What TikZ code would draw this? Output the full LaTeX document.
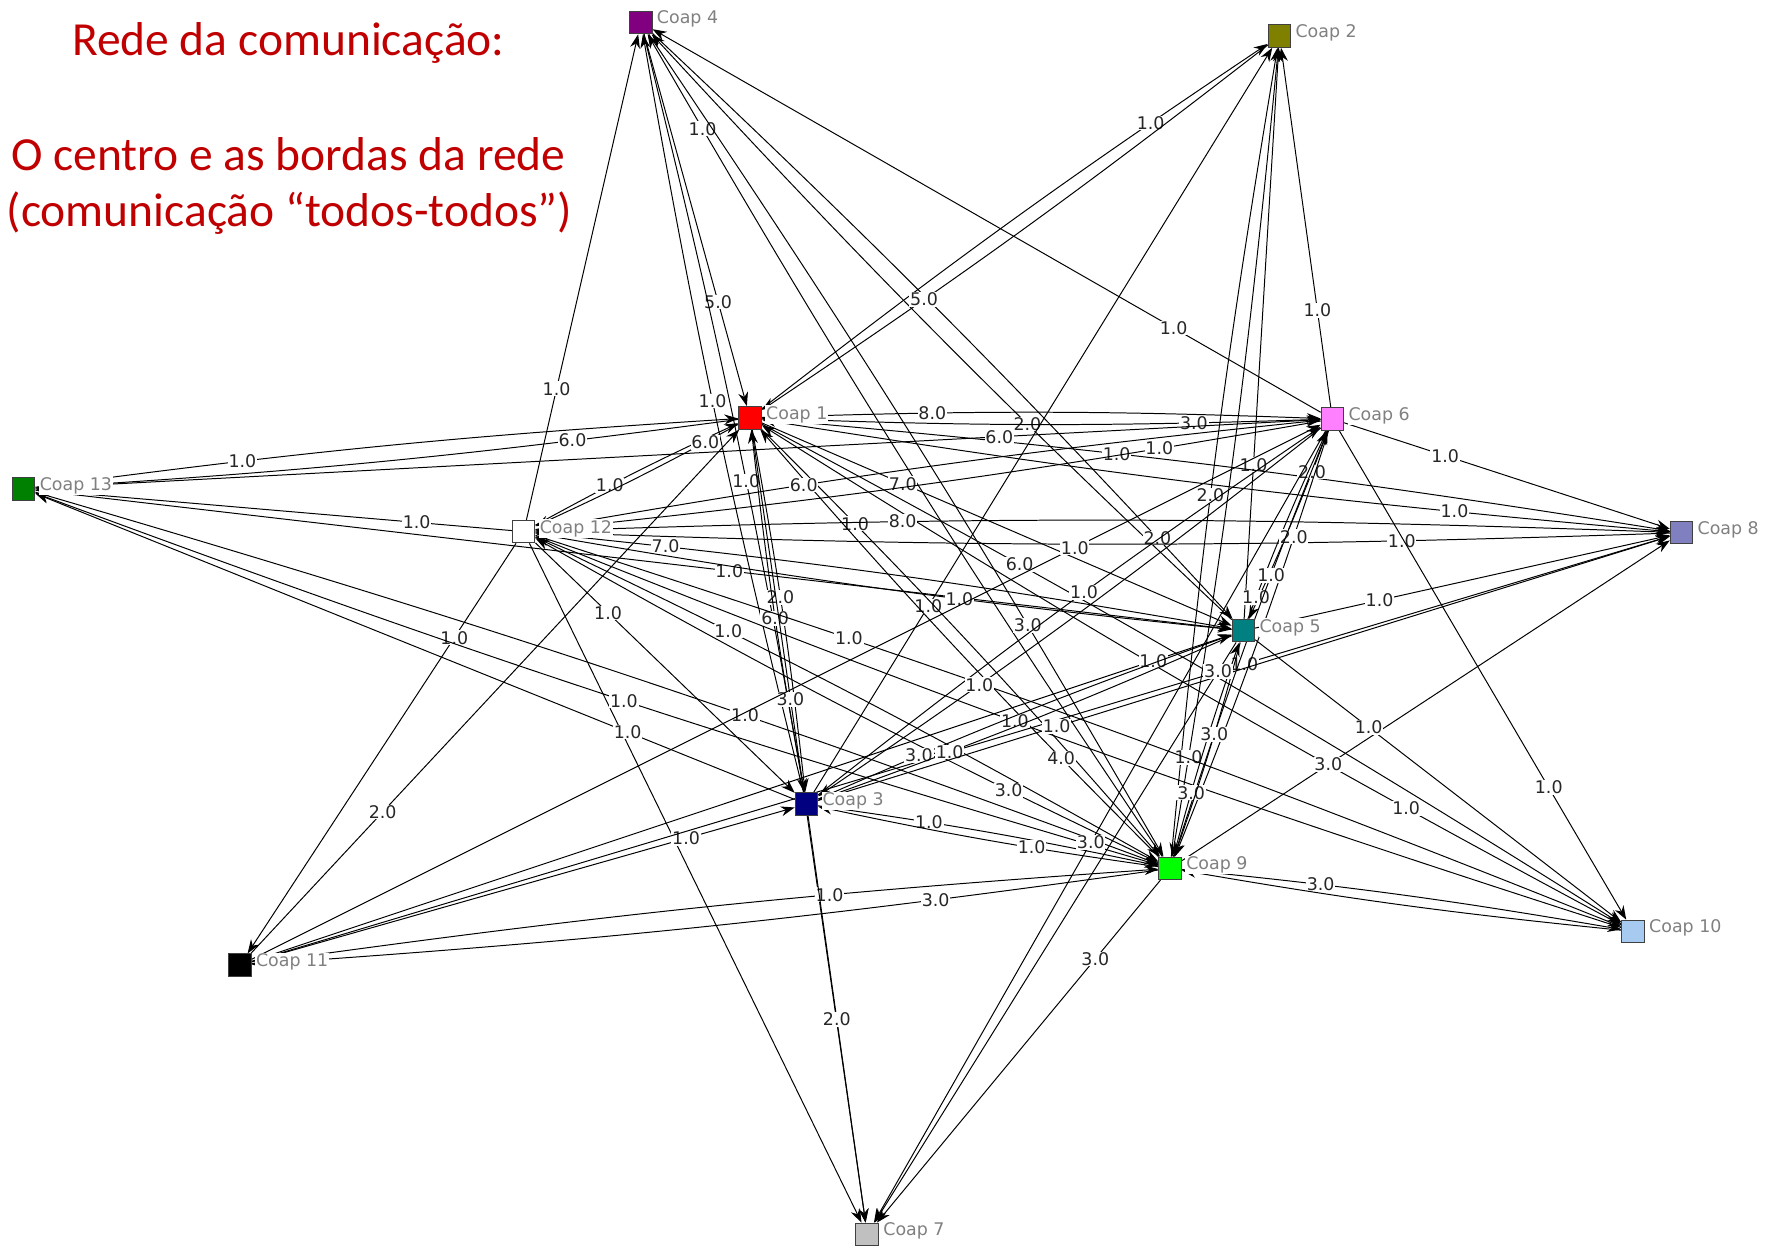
\documentclass[tikz,border=0pt]{standalone}
\usepackage{fontspec}
\usepackage{tikz}
\usetikzlibrary{arrows.meta,positioning,backgrounds}
\newfontfamily\titlefont{Carlito}
\newfontfamily\netfont{DejaVu Sans}
\definecolor{titlered}{RGB}{192,0,0}
\definecolor{coapred}{RGB}{255,0,0}
\definecolor{coapolive}{RGB}{128,128,0}
\definecolor{coappurple}{RGB}{128,0,128}
\definecolor{coapteal}{RGB}{0,128,128}
\definecolor{coappink}{RGB}{255,128,255}
\definecolor{coapsilver}{RGB}{192,192,192}
\definecolor{coapslate}{RGB}{128,128,192}
\definecolor{coaplime}{RGB}{0,255,0}
\definecolor{coapsky}{RGB}{166,202,240}
\definecolor{coapnavy}{RGB}{0,0,128}
\definecolor{coapgreen}{RGB}{0,128,0}

\begin{document}
\begin{tikzpicture}[
    coap/.style={rectangle, draw=black!75, line width=0.5pt, minimum size=0.4cm, inner sep=0pt},
    coaplbl/.style={font=\netfont\fontsize{8.8}{10}\selectfont, text=black!50, fill=white, inner sep=0.5pt, yshift=1.6pt},
    titletxt/.style={font=\titlefont\fontsize{24}{29}\selectfont, text=titlered, inner sep=0pt, anchor=base},
    link/.style={->, >={Stealth[length=7pt,width=5pt]}, line width=0.5pt},
    pair/.style={bend left=2},
    val/.style={font=\netfont\fontsize{8.8}{10}\selectfont, text=black!85, fill=white, inner sep=0.4pt},
    label distance=1.5pt
]
\useasboundingbox (0,0) rectangle (31.36,22.12);

% Title
\node[titletxt] (title1) at (5.12,21.14) {Rede da comunicação:};
\node[titletxt] (title2) at (5.12,19.10) {O centro e as bordas da rede};
\node[titletxt] (title3) at (5.14,18.09) {(comunicação “todos-todos”)};

% Cooperatives
\node[coap, fill=coapred, label={[coaplbl]east:Coap 1}] (coap1) at (13.32,14.70) {};
\node[coap, fill=coapolive, label={[coaplbl]east:Coap 2}] (coap2) at (22.72,21.48) {};
\node[coap, fill=coapnavy, label={[coaplbl]east:Coap 3}] (coap3) at (14.32,7.84) {};
\node[coap, fill=coappurple, label={[coaplbl]east:Coap 4}] (coap4) at (11.38,21.72) {};
\node[coap, fill=coapteal, label={[coaplbl]east:Coap 5}] (coap5) at (22.08,10.92) {};
\node[coap, fill=coappink, label={[coaplbl]east:Coap 6}] (coap6) at (23.66,14.68) {};
\node[coap, fill=coapsilver, label={[coaplbl]east:Coap 7}] (coap7) at (15.40,0.20) {};
\node[coap, fill=coapslate, label={[coaplbl]east:Coap 8}] (coap8) at (29.86,12.66) {};
\node[coap, fill=coaplime, label={[coaplbl]east:Coap 9}] (coap9) at (20.78,6.70) {};
\node[coap, fill=coapsky, label={[coaplbl]east:Coap 10}] (coap10) at (29.00,5.58) {};
\node[coap, fill=black, label={[coaplbl]east:Coap 11}] (coap11) at (4.26,4.98) {};
\node[coap, fill=white, label={[coaplbl]east:Coap 12}] (coap12) at (9.30,12.68) {};
\node[coap, fill=coapgreen, label={[coaplbl]east:Coap 13}] (coap13) at (0.42,13.44) {};

% Connections
\begin{scope}[on background layer]
% Coap 4
\draw[link] (coap12) -- node[val, pos=.27] {1.0} (coap4);
\draw[link] (coap4) -- node[val, pos=.72] {5.0} (coap1);
\draw[link] (coap3) to[pair] node[val, pos=.52] {1.0} (coap4);
\draw[link] (coap4) to[pair] node[val, pos=.60] {1.0} (coap3);
\draw[link] (coap9) to[pair] node[val, pos=.90] {1.0} (coap4);
\draw[link] (coap4) to[pair] node[val, pos=.74] {3.0} (coap9);
\draw[link] (coap5) to[pair] node[val, pos=.33] {2.0} (coap4);
\draw[link] (coap4) to[pair] node[val, pos=.88] {2.0} (coap5);
\draw[link] (coap6) -- node[val, pos=.22] {1.0} (coap4);
% Coap 2
\draw[link] (coap1) to[pair] node[val, pos=.79] {1.0} (coap2);
\draw[link] (coap2) to[pair] node[val, pos=.70] {5.0} (coap1);
\draw[link] (coap6) -- node[val, pos=.27] {1.0} (coap2);
\draw[link] (coap3) -- node[val, pos=.25] {1.0} (coap2);
\draw[link] (coap5) -- node[val, pos=.27] {1.0} (coap2);
\draw[link] (coap9) to[pair] node[val, pos=.44] {2.0} (coap2);
\draw[link] (coap2) to[pair] node[val, pos=.89] {1.0} (coap9);
% Coap 1
\draw[link] (coap13) to[pair] node[val, pos=.28] {1.0} (coap1);
\draw[link] (coap1) to[pair] node[val, pos=.22] {6.0} (coap13);
\draw[link] (coap12) to[pair] node[val, pos=.36] {1.0} (coap1);
\draw[link] (coap1) to[pair] node[val, pos=.15] {6.0} (coap12);
\draw[link] (coap11) -- node[val, pos=.27] {2.0} (coap1);
\draw[link] (coap1) to[pair] node[val, pos=.29] {8.0} (coap6);
\draw[link] (coap6) to[pair] node[val, pos=.21] {3.0} (coap1);
\draw[link] (coap1) to[pair] node[val, pos=.38] {1.0} (coap8);
\draw[link] (coap8) to[pair] node[val, pos=.22] {1.0} (coap1);
\draw[link] (coap1) -- node[val, pos=.30] {7.0} (coap5);
\draw[link] (coap1) to[pair] node[val, pos=.21] {1.0} (coap9);
\draw[link] (coap9) to[pair] node[val, pos=.22] {4.0} (coap1);
\draw[link] (coap1) to[pair] node[val, pos=.28] {6.0} (coap10);
\draw[link] (coap10) to[pair] node[val, pos=.23] {1.0} (coap1);
\draw[link] (coap1) to[pair] node[val, pos=.46] {2.0} (coap3);
\draw[link] (coap3) to[pair] node[val, pos=.48] {6.0} (coap1);
\draw[link] (coap1) -- node[val, pos=.34] {3.0} (coap7);
% Coap 12
\draw[link] (coap12) -- node[val, pos=.20] {1.0} (coap13);
\draw[link] (coap13) -- node[val, pos=.58] {1.0} (coap5);
\draw[link] (coap12) to[pair] node[val, pos=.17] {7.0} (coap5);
\draw[link] (coap5) to[pair] node[val, pos=.38] {1.0} (coap12);
\draw[link] (coap12) to[pair] node[val, pos=.31] {8.0} (coap8);
\draw[link] (coap8) to[pair] node[val, pos=.22] {1.0} (coap12);
\draw[link] (coap12) to[pair] node[val, pos=.33] {6.0} (coap6);
\draw[link] (coap6) to[pair] node[val, pos=.19] {1.0} (coap12);
\draw[link] (coap12) to[pair] node[val, pos=.29] {1.0} (coap9);
\draw[link] (coap9) to[pair] node[val, pos=.22] {3.0} (coap12);
\draw[link] (coap12) to[pair] node[val, pos=.27] {1.0} (coap10);
\draw[link] (coap10) to[pair] node[val, pos=.56] {1.0} (coap12);
\draw[link] (coap12) -- node[val, pos=.28] {1.0} (coap3);
\draw[link] (coap12) -- (coap7);
\draw[link] (coap12) -- node[val, pos=.23] {1.0} (coap11);
% Coap 13 and Coap 11
\draw[link] (coap9) to[pair] node[val, pos=.47] {1.0} (coap13);
\draw[link] (coap13) to[pair] node[val, pos=.64] {1.0} (coap9);
\draw[link] (coap3) -- node[val, pos=.22] {1.0} (coap13);
\draw[link] (coap13) -- node[val, pos=.75] {6.0} (coap6);
\draw[link] (coap11) -- node[val, pos=.77] {1.0} (coap6);
\draw[link] (coap11) -- node[val, pos=.80] {1.0} (coap3);
\draw[link] (coap11) -- node[val, pos=.92] {1.0} (coap5);
\draw[link] (coap11) -- node[val, pos=.70] {1.0} (coap8);
\draw[link] (coap11) to[pair] node[val, pos=.65] {1.0} (coap9);
\draw[link] (coap9) to[pair] node[val, pos=.23] {3.0} (coap11);
% Coap 3
\draw[link] (coap3) to[pair] node[val, pos=.54] {1.0} (coap6);
\draw[link] (coap6) to[pair] node[val, pos=.70] {1.0} (coap3);
\draw[link] (coap3) to[pair] node[val, pos=.23] {3.0} (coap5);
\draw[link] (coap5) to[pair] node[val, pos=.70] {1.0} (coap3);
\draw[link] (coap3) -- node[val, pos=.28] {1.0} (coap8);
\draw[link] (coap3) to[pair] node[val, pos=.31] {1.0} (coap9);
\draw[link] (coap9) to[pair] node[val, pos=.36] {1.0} (coap3);
\draw[link] (coap3) -- node[val, pos=.50] {2.0} (coap7);
% Coap 5, 6 and 9
\draw[link] (coap6) to[pair] node[val, pos=.20] {2.0} (coap5);
\draw[link] (coap5) to[pair] node[val, pos=.10] {1.0} (coap6);
\draw[link] (coap6) to[pair] node[val, pos=.23] {2.0} (coap9);
\draw[link] (coap9) to[pair] node[val, pos=.67] {1.0} (coap6);
\draw[link] (coap9) to[pair] node[val, pos=.28] {3.0} (coap5);
\draw[link] (coap5) to[pair] node[val, pos=.42] {3.0} (coap9);
\draw[link] (coap5) -- node[val, pos=.05] {3.0} (coap7);
\draw[link] (coap6) -- node[val, pos=.52] {3.0} (coap7);
\draw[link] (coap9) -- node[val, pos=.23] {3.0} (coap7);
\draw[link] (coap6) -- node[val, pos=.31] {1.0} (coap8);
\draw[link] (coap5) -- node[val, pos=.30] {1.0} (coap8);
\draw[link] (coap9) -- node[val, pos=.30] {3.0} (coap8);
\draw[link] (coap9) to[pair] node[val, pos=.30] {3.0} (coap10);
\draw[link] (coap10) to[pair] (coap9);
\draw[link] (coap6) -- node[val, pos=.73] {1.0} (coap10);
\draw[link] (coap5) -- node[val, pos=.31] {1.0} (coap10);
\end{scope}
\end{tikzpicture}
\end{document}
